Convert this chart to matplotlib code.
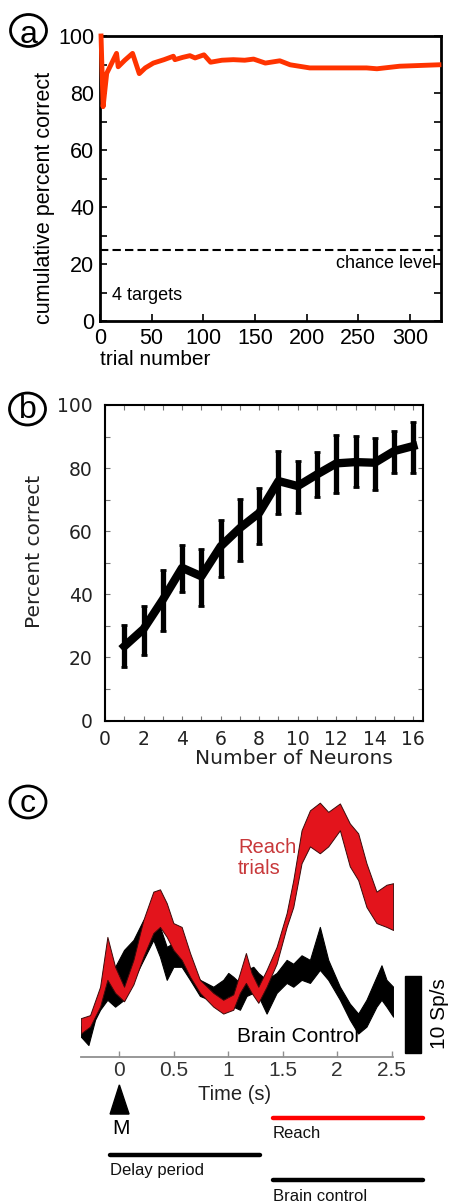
import numpy as np
import matplotlib
matplotlib.use('Agg')
import matplotlib.pyplot as plt
from matplotlib.patches import Ellipse, Rectangle, Polygon

plt.rcParams['font.family'] = ['Liberation Sans', 'DejaVu Sans']

W, H = 450, 1202

# panel a: cumulative percent correct vs trial
trial = [1, 3, 6.5, 16, 17.6, 24, 31.5, 38, 43.8, 51.6, 62, 71, 72.5, 80, 87, 92,
         100.6, 107, 118, 129, 140, 148.6, 160, 174, 184, 203, 226, 258, 268, 290, 328]
pct = [100, 75.2, 86.9, 93.9, 89.2, 91.5, 93.9, 86.8, 88.8, 90.5, 91.7, 92.9, 91.7,
       92.5, 93.1, 92.3, 93.4, 90.8, 91.5, 91.7, 91.5, 91.9, 90.5, 91.3, 89.9, 88.8,
       88.8, 88.8, 88.5, 89.4, 89.9]
chance = 25

# panel b: percent correct vs number of neurons
neurons = list(range(1, 17))
pc = [23.5, 29.0, 38.3, 48.4, 45.7, 55.2, 61.0, 65.8, 75.9, 74.3, 78.0, 81.5, 81.9, 81.7, 85.4, 87.0]
pc_lo = [17.1, 20.8, 28.3, 40.7, 36.2, 45.5, 50.5, 56.1, 65.3, 65.8, 70.9, 72.2, 74.1, 73.2, 78.5, 78.5]
pc_hi = [30.4, 36.4, 47.8, 55.6, 54.4, 63.7, 70.3, 73.8, 85.4, 82.2, 85.1, 90.4, 90.2, 89.4, 91.7, 94.6]

# panel c: firing rate bands (Sp/s)
red_t = [-0.354, -0.269, -0.177, -0.110, -0.039, 0.043, 0.129, 0.220, 0.312, 0.373,
         0.435, 0.496, 0.572, 0.649, 0.740, 0.863, 0.954, 1.046, 1.107, 1.162,
         1.214, 1.276, 1.352, 1.444, 1.536, 1.597, 1.673, 1.750, 1.841, 1.918,
         2.025, 2.116, 2.193, 2.269, 2.361, 2.453, 2.514]
red_hi = [5.1, 5.5, 9.2, 15.7, 11.8, 9.2, 12.7, 17.9, 21.6, 21.9,
          20.1, 17.5, 17.0, 13.6, 10.1, 8.4, 7.5, 8.2, 11.0, 13.6,
          11.0, 9.2, 11.4, 14.4, 18.8, 23.1, 29.6, 32.2, 33.2, 32.0,
          33.1, 30.5, 29.2, 25.3, 21.6, 22.5, 22.7]
red_lo = [3.1, 4.0, 6.6, 10.1, 8.4, 7.3, 9.5, 13.1, 16.2, 17.0,
          15.7, 14.0, 12.7, 10.5, 8.4, 6.6, 5.7, 6.2, 8.4, 9.7,
          8.4, 7.1, 9.2, 12.2, 17.0, 19.6, 25.3, 27.5, 26.6, 27.5,
          29.6, 24.9, 23.1, 19.6, 17.5, 17.0, 16.6]
blk_t = [-0.354, -0.284, -0.223, -0.177, -0.110, -0.039, 0.043, 0.129, 0.220, 0.312,
         0.373, 0.435, 0.496, 0.572, 0.649, 0.740, 0.863, 0.954, 1.000, 1.046,
         1.107, 1.168, 1.230, 1.276, 1.352, 1.444, 1.536, 1.597, 1.673, 1.750,
         1.841, 1.918, 2.025, 2.116, 2.193, 2.269, 2.361, 2.407, 2.453, 2.514]
blk_hi = [4.0, 4.6, 6.2, 7.5, 10.1, 11.8, 14.0, 15.3, 17.9, 18.8,
          17.0, 14.4, 14.9, 14.4, 11.8, 10.1, 9.2, 10.1, 11.0, 10.5,
          9.7, 11.4, 11.8, 11.0, 10.1, 11.0, 12.7, 12.2, 13.3, 12.7,
          17.0, 12.7, 9.2, 7.0, 5.7, 7.5, 10.5, 12.0, 10.1, 9.2]
blk_lo = [2.7, 1.6, 4.9, 6.2, 7.5, 6.6, 7.5, 10.1, 12.7, 15.3,
          13.1, 10.1, 11.8, 11.8, 10.1, 8.0, 7.3, 7.1, 8.0, 6.6,
          6.2, 8.0, 8.4, 8.0, 5.7, 8.4, 9.7, 9.2, 10.1, 9.7,
          11.4, 10.1, 7.5, 4.9, 3.1, 4.0, 6.6, 7.5, 6.6, 5.3]
# task epochs: label, start, end (s), colour
epochs = [('Delay period', -0.085, 1.29, 'black'),
          ('Reach', 1.41, 2.786, '#ff0000'),
          ('Brain control', 1.41, 2.786, 'black')]


def box(l, t, r, b):
    return [l / W, 1 - b / H, (r - l) / W, (b - t) / H]


def fx(x):
    return x / W


def fy(y):
    return 1 - y / H


fig = plt.figure(figsize=(W / 100, H / 100), dpi=100)

# ---------- panel a ----------
axa = fig.add_axes(box(100, 36, 441, 321))
axa.plot(trial, pct, color='#ff3300', lw=3.5, solid_joinstyle='round', clip_on=False, zorder=3)
axa.plot([0, 330], [chance, chance], color='black', lw=1.5, dashes=(4, 2))
axa.set_xlim(0, 330)
axa.set_ylim(0, 100)
axa.set_xticks(range(0, 301, 50))
axa.set_yticks(range(0, 101, 20))
axa.set_yticks(range(10, 100, 20), minor=True)
axa.tick_params(which='both', direction='in', right=True, length=5, width=1.2, labelsize=15.5)
axa.tick_params(axis='x', pad=5)
axa.tick_params(axis='y', pad=4)
for s in axa.spines.values():
    s.set_linewidth(2)
axa.text(325, 20.2, 'chance level', ha='right', va='center', fontsize=13)
axa.text(11.6, 8.8, '4 targets', ha='left', va='center', fontsize=13)
fig.text(fx(45), fy(198), 'cumulative percent correct', rotation=90, ha='center', va='center', fontsize=15.5)
fig.text(fx(100), fy(365), 'trial number', ha='left', va='baseline', fontsize=15)

# ---------- panel b ----------
axb = fig.add_axes(box(105, 405, 423, 720.5))
pc_arr = np.array(pc)
yerr = [pc_arr - np.array(pc_lo), np.array(pc_hi) - pc_arr]
axb.errorbar(neurons, pc, yerr=yerr, color='black', lw=6, elinewidth=3.8,
             capsize=2.5, capthick=2, solid_joinstyle='round')
axb.set_xlim(0, 16.5)
axb.set_ylim(0, 100)
axb.set_xticks(range(0, 17, 2))
axb.set_xticks(range(1, 17, 2), minor=True)
axb.set_yticks(range(0, 101, 20))
axb.set_yticks(range(10, 100, 20), minor=True)
axb.tick_params(which='both', direction='in', right=True, top=True, length=3.5, width=0.8,
                color='#777777', labelsize=13.5, labelcolor='#222222')
axb.tick_params(axis='x', pad=7)
axb.tick_params(axis='y', pad=9)
for lab in axb.get_xticklabels() + axb.get_yticklabels():
    lab.set_fontfamily('DejaVu Sans')
for s in axb.spines.values():
    s.set_linewidth(1.5)
fig.text(fx(35), fy(551), 'Percent correct', rotation=90, ha='center', va='center',
         fontsize=14.5, family='DejaVu Sans', color='#222222')
fig.text(fx(294), fy(758), 'Number of Neurons', ha='center', va='center',
         fontsize=14.5, family='DejaVu Sans', color='#222222')

# ---------- panel c ----------
axc = fig.add_axes(box(80.7, 795, 392.7, 1057.3))
axc.fill_between(blk_t, blk_lo, blk_hi, facecolor='black', edgecolor='black', lw=0.8)
axc.fill_between(red_t, red_lo, red_hi, facecolor='#e3141c', edgecolor='#3a0a0a', lw=0.7)
axc.set_xlim(-0.355, 2.51)
axc.set_ylim(0, 34.2)
for k in ['left', 'right', 'top']:
    axc.spines[k].set_visible(False)
axc.spines['bottom'].set_color('#909090')
axc.spines['bottom'].set_linewidth(1.3)
axc.set_yticks([])
axc.set_xticks([0, 0.5, 1, 1.5, 2, 2.5])
axc.set_xticklabels(['0', '0.5', '1', '1.5', '2', '2.5'])
axc.tick_params(axis='x', direction='in', length=4, width=1, color='#909090',
                labelcolor='#333333', labelsize=15, pad=3)
axc.text(1.09, 26.0, 'Reach\ntrials', color='#c8383a', fontsize=14.5, ha='left', va='center',
         linespacing=1.15)
axc.text(1.077, 2.7, 'Brain Control', fontsize=15, ha='left', va='center')
axc.text(1.06, -4.9, 'Time (s)', fontsize=14.5, ha='center', va='center', color='#222222')
# scale bar
axc.add_patch(Rectangle((2.62, 0.6), 0.15, 10, color='black', clip_on=False))
axc.text(2.94, 5.7, '10 Sp/s', rotation=90, fontsize=15, ha='center', va='center')
# movement cue
axc.add_patch(Polygon([(-0.085, -7.4), (0.089, -7.4), (0.0, -3.6)], closed=True,
                      color='black', clip_on=False))
axc.text(0.017, -9.3, 'M', fontsize=15, ha='center', va='center')
# epoch bars
bar_y = [-12.7, -7.9, -16.0]
for (name, t0, t1, col), yy in zip(epochs, bar_y):
    axc.plot([t0, t1], [yy, yy], color=col, lw=3.2, solid_capstyle='round', clip_on=False)
    axc.text(t0, yy - 2.1, name, fontsize=12, ha='left', va='center', color='#111111')

# circled panel letters
for letter, cx, cy, base in [('a', 28.5, 30.5, 43), ('b', 27.5, 409, 418.5), ('c', 28, 802, 812)]:
    fig.patches.append(Ellipse((fx(cx), fy(cy)), 36 / W, 32 / H, transform=fig.transFigure,
                               fill=False, edgecolor='black', lw=2))
    fig.text(fx(cx), fy(base), letter, fontsize=23, ha='center', va='baseline')

fig.savefig('out.png', dpi=100)
